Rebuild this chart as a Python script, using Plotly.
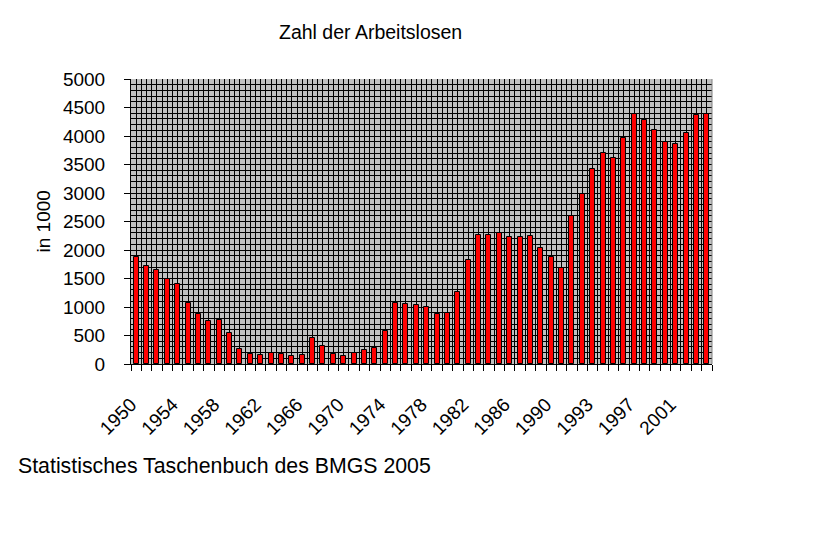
import plotly.graph_objects as go

# categories (1991 appears twice: West Germany and unified Germany)
years = [str(y) for y in range(1950, 1991)] + ["1991", "1991"] + [str(y) for y in range(1992, 2005)]
# unemployed, in 1000
unemployed = [1869, 1714, 1652, 1491, 1411, 1074, 876, 754, 764, 540,
              271, 181, 155, 186, 169, 147, 161, 460, 324, 179,
              149, 185, 246, 274, 583, 1074, 1060, 1030, 993, 876,
              889, 1272, 1833, 2258, 2266, 2304, 2228, 2229, 2242, 2038,
              1883, 1689, 2602, 2979, 3419, 3698, 3612, 3965, 4384, 4279,
              4100, 3890, 3853, 4061, 4377, 4381]
label_step = 4

title_text = "Zahl der Arbeitslosen"
y_title = "in 1000"
source_text = "Statistisches Taschenbuch des BMGS 2005"

FONT = "Liberation Sans, Arial, sans-serif"
idx = list(range(len(years)))

fig = go.Figure(go.Bar(
    x=idx, y=unemployed, width=0.48,
    marker=dict(color="#FF0000", line=dict(color="black", width=1)),
    hovertext=years,
))

L, R, T, B = 131, 102, 79, 185
W, H = 814, 549
pw = W - L - R
ph = H - T - B

fig.update_layout(
    width=W, height=H,
    margin=dict(l=L, r=R, t=T, b=B, pad=0),
    paper_bgcolor="white", plot_bgcolor="#C0C0C0",
    showlegend=False,
    bargap=0,
    font=dict(family=FONT, size=19, color="black"),
)

# ticks/grid at category boundaries; labels on every 4th boundary (left edge of category)
bounds = [i - 0.5 for i in range(len(years) + 1)]
btext = [years[i] if (i < len(years) and i % label_step == 0) else "" for i in range(len(years) + 1)]

fig.update_xaxes(
    type="linear",
    range=[-0.5, len(years) - 0.5],
    tickmode="array",
    tickvals=bounds,
    ticktext=btext,
    tickangle=-45,
    ticks="outside", ticklen=6, tickcolor="black", tickwidth=1,
    showgrid=True, gridcolor="black", gridwidth=1,
    ticklabelstandoff=15,
    showline=True, linecolor="black", linewidth=1,
    tickfont=dict(size=19),
    minor=dict(tickmode="array", tickvals=idx, ticks="",
               showgrid=True, gridcolor="black", gridwidth=1),
    zeroline=False,
)
fig.update_yaxes(
    range=[0, 5000], dtick=500, tick0=0,
    ticks="outside", ticklen=6, tickcolor="black",
    showgrid=True, gridcolor="black", gridwidth=1,
    showline=True, linecolor="black", linewidth=1,
    ticklabelstandoff=15,
    tickfont=dict(size=19),
    minor=dict(dtick=100, showgrid=True, gridcolor="black", gridwidth=1, ticks=""),
    zeroline=False,
)

# grey right border
fig.add_shape(type="line", xref="paper", yref="paper", x0=1, x1=1, y0=0, y1=1,
              line=dict(color="#808080", width=1), layer="above")

fig.add_annotation(text=title_text, xref="paper", yref="paper",
                   x=(370 - L) / pw, y=(H - B - 32) / ph, xanchor="center", yanchor="middle",
                   showarrow=False, font=dict(size=19.5))
fig.add_annotation(text=y_title, xref="paper", yref="paper",
                   x=(43 - L) / pw, y=0.5, xanchor="center", yanchor="middle",
                   textangle=-90, showarrow=False, font=dict(size=19))
fig.add_annotation(text=source_text, xref="paper", yref="paper",
                   x=(16 - L) / pw, y=(H - B - 466) / ph, xanchor="left", yanchor="middle",
                   showarrow=False, font=dict(size=21.3))

fig.write_html("out.html")
